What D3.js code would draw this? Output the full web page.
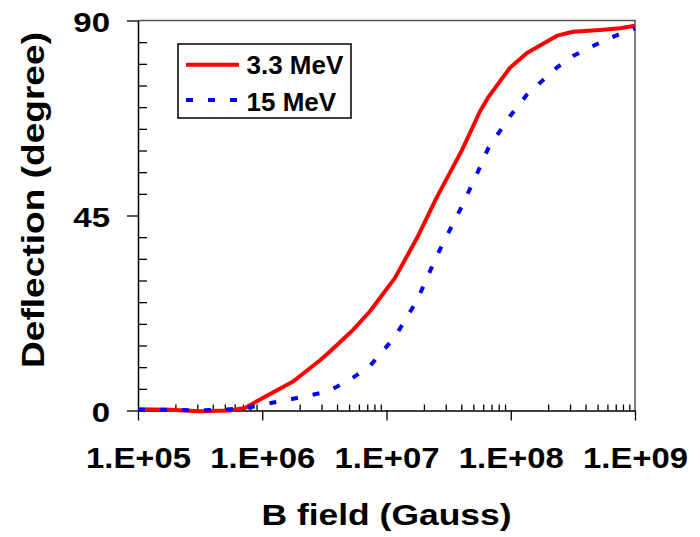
<!DOCTYPE html>
<html>
<head>
<meta charset="utf-8">
<script src="https://cdn.jsdelivr.net/npm/d3@7/dist/d3.min.js"></script>
<style>
    body { margin: 0; background: #fff; }
    svg text { font-family: "Liberation Sans", Arial, sans-serif; font-weight: bold; fill: #000; }
</style>
</head>
<body>
<svg id="chart" width="700" height="537"></svg>
<script>
// B field (Gauss), shared by both series
var bField = [1e5, 1.81e5, 3.16e5, 5.5e5, 7.26e5, 1.01e6, 1.77e6, 2.92e6, 3.51e6, 5.38e6,
    7.37e6, 1.17e7, 1.76e7, 2.55e7, 4.05e7, 5.65e7, 6.56e7, 9.86e7, 1.35e8, 2.36e8,
    3.17e8, 5.22e8, 7.57e8, 1e9];
// deflection (degree)
var mev33 = [0.3, 0.2, -0.2, 0, 0.6, 2.9, 6.7, 11.6, 13.6, 18.6,
    22.9, 30.6, 39.8, 49.3, 60.1, 69.0, 72.2, 79.1, 82.5, 86.5,
    87.4, 87.8, 88.2, 88.8];
var mev15 = [0.2, 0.2, 0, 0.3, 0.5, 1.4, 2.7, 4.0, 4.6, 7.6,
    10.3, 17.0, 25.4, 35.8, 47.2, 56.1, 60.4, 67.9, 72.9, 79.2,
    81.8, 84.9, 86.9, 88.2];
var seriesNames = ["3.3 MeV", "15 MeV"];
var xTickValues = [1e5, 1e6, 1e7, 1e8, 1e9];
var xTickLabels = ["1.E+05", "1.E+06", "1.E+07", "1.E+08", "1.E+09"];
var yTickValues = [0, 45, 90];
var yTickLabels = ["0", "45", "90"];

var plotLeft = 138, plotRight = 635, plotTop = 20.5, plotBottom = 410.5;

var svg = d3.select("#chart");

var x = d3.scaleLog().domain([1e5, 1e9]).range([plotLeft, plotRight]);
var y = d3.scaleLinear().domain([0, 90]).range([plotBottom, plotTop]);

// stretch text horizontally, the original font runs wider than Arial
function stretch(sel, k) {
    sel.each(function() {
        var w = this.getComputedTextLength();
        this.setAttribute("textLength", w * k);
        this.setAttribute("lengthAdjust", "spacingAndGlyphs");
    });
}

// frame (top + right)
svg.append("path")
    .attr("d", "M" + plotLeft + "," + plotTop + "H" + plotRight + "V" + plotBottom)
    .attr("fill", "none")
    .attr("stroke", "#555")
    .attr("stroke-width", 1.5);

// minor ticks, inside
var xMinor = x.ticks().filter(function(d) { return xTickValues.indexOf(d) < 0; });
svg.append("g")
    .attr("transform", "translate(0," + plotBottom + ")")
    .call(d3.axisBottom(x).tickValues(xMinor).tickSize(-6).tickSizeOuter(0).tickFormat(""))
    .call(function(g) { g.select(".domain").remove(); })
    .selectAll("line").attr("stroke", "#000").attr("stroke-width", 1.3);

var yMinor = y.ticks(18).filter(function(d) { return yTickValues.indexOf(d) < 0; });
svg.append("g")
    .attr("transform", "translate(" + plotLeft + ",0)")
    .call(d3.axisLeft(y).tickValues(yMinor).tickSize(-9).tickSizeOuter(0).tickFormat(""))
    .call(function(g) { g.select(".domain").remove(); })
    .selectAll("line").attr("stroke", "#000").attr("stroke-width", 1.3);

// major axes
var xAxis = svg.append("g")
    .attr("transform", "translate(0," + plotBottom + ")")
    .call(d3.axisBottom(x).tickValues(xTickValues).tickSize(10).tickSizeOuter(0).tickPadding(26)
        .tickFormat(function(d, i) { return xTickLabels[i]; }));
xAxis.attr("font-family", null).attr("font-size", null);
xAxis.select(".domain").attr("stroke", "#000").attr("stroke-width", 1.5);
xAxis.selectAll("line").attr("stroke", "#000").attr("stroke-width", 1.3);
xAxis.selectAll("text")
    .attr("font-size", 30)
    .call(stretch, 1.095);

var yAxis = svg.append("g")
    .attr("transform", "translate(" + plotLeft + ",0)")
    .call(d3.axisLeft(y).tickValues(yTickValues).tickSize(11).tickSizeOuter(0).tickPadding(17)
        .tickFormat(function(d, i) { return yTickLabels[i]; }));
yAxis.attr("font-family", null).attr("font-size", null);
yAxis.select(".domain").attr("stroke", "#000").attr("stroke-width", 1.5);
yAxis.selectAll("line").attr("stroke", "#000").attr("stroke-width", 1.3);
yAxis.selectAll("text")
    .attr("font-size", 28)
    .attr("dy", "0.39em")
    .call(stretch, 1.18);

// curves
var line = d3.line()
    .x(function(d, i) { return x(bField[i]); })
    .y(function(d) { return y(d); });

svg.append("path")
    .datum(mev33)
    .attr("d", line)
    .attr("fill", "none")
    .attr("stroke", "#ff0000")
    .attr("stroke-width", 4)
    .attr("stroke-linejoin", "round");

svg.append("path")
    .datum(mev15)
    .attr("d", line)
    .attr("fill", "none")
    .attr("stroke", "#0000ff")
    .attr("stroke-width", 4)
    .attr("stroke-dasharray", "7,15");

// legend
var legend = svg.append("g");
legend.append("rect")
    .attr("x", 178).attr("y", 44)
    .attr("width", 173).attr("height", 74)
    .attr("fill", "#fff")
    .attr("stroke", "#000")
    .attr("stroke-width", 1.5);

var legendStyles = [
    {color: "#ff0000", dash: null, ly: 64.7, ty: 74},
    {color: "#0000ff", dash: "7,15", ly: 100, ty: 110.5}
];
seriesNames.forEach(function(name, i) {
    var s = legendStyles[i];
    legend.append("line")
        .attr("x1", 186).attr("x2", 239)
        .attr("y1", s.ly).attr("y2", s.ly)
        .attr("stroke", s.color)
        .attr("stroke-width", 4)
        .attr("stroke-dasharray", s.dash);
    legend.append("text")
        .attr("x", 246.5).attr("y", s.ty)
        .attr("font-size", 26)
        .text(name);
});

// axis titles
svg.append("text")
    .attr("x", (plotLeft + plotRight) / 2)
    .attr("y", 525)
    .attr("text-anchor", "middle")
    .attr("font-size", 29)
    .attr("textLength", 250)
    .attr("lengthAdjust", "spacingAndGlyphs")
    .text("B field (Gauss)");

svg.append("text")
    .attr("transform", "translate(44,200) rotate(-90)")
    .attr("text-anchor", "middle")
    .attr("font-size", 31)
    .attr("textLength", 336)
    .attr("lengthAdjust", "spacingAndGlyphs")
    .text("Deflection (degree)");
</script>
</body>
</html>
